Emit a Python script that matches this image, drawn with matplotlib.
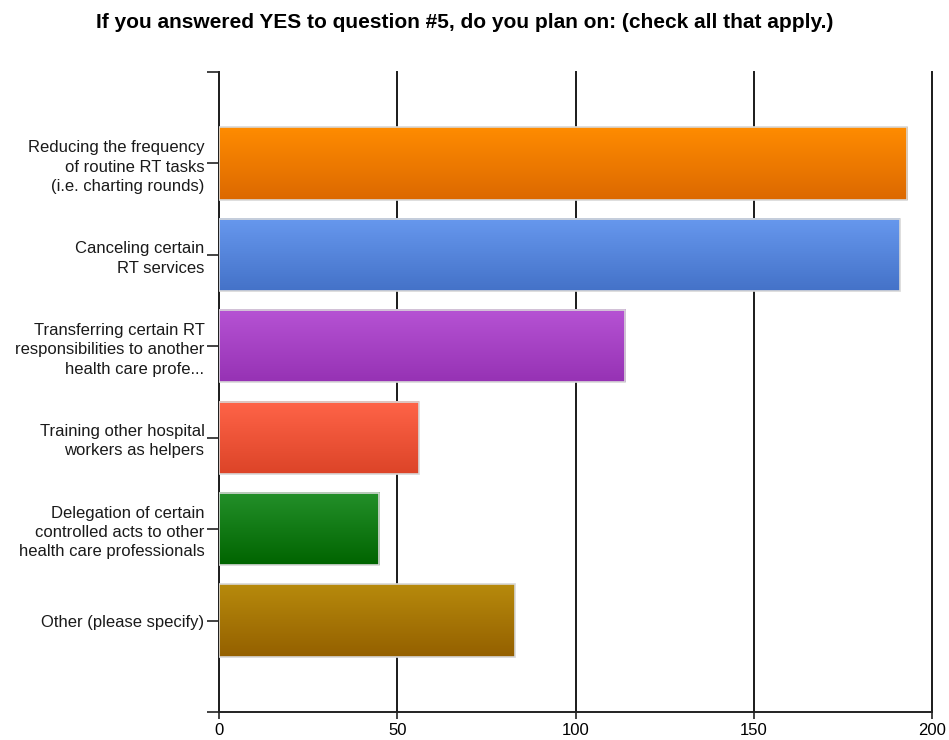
import numpy as np
import matplotlib
matplotlib.use('Agg')
import matplotlib.pyplot as plt
from matplotlib.colors import LinearSegmentedColormap

# data
categories = [
    "Reducing the frequency\nof routine RT tasks\n(i.e. charting rounds)",
    "Canceling certain\nRT services",
    "Transferring certain RT\nresponsibilities to another\nhealth care profe...",
    "Training other hospital\nworkers as helpers",
    "Delegation of certain\ncontrolled acts to other\nhealth care professionals",
    "Other (please specify)",
]
responses = [193, 191, 114, 56, 45, 83]
top_colors = ["#ff8c00", "#6798ee", "#b653d4", "#ff6448", "#24902a", "#b78a0c"]
bottom_colors = ["#dc6800", "#4472c8", "#9632b4", "#dc4428", "#006400", "#946000"]
x_ticks = [0, 50, 100, 150, 200]

plt.rcParams['font.family'] = ['Liberation Sans', 'DejaVu Sans']

fig = plt.figure(figsize=(9.49, 7.40), dpi=100)
ax = fig.add_axes([219 / 949, 1 - 712 / 740, 713 / 949, 640 / 740])

ypos = np.arange(len(categories))
bars = ax.barh(ypos, responses, height=0.79, color='none', edgecolor='#d8d8d8',
               linewidth=1.2, zorder=4)

# gradient fill, top to bottom, inside each bar
grad = np.linspace(0, 1, 256).reshape(-1, 1)
for bar, c1, c2 in zip(bars, top_colors, bottom_colors):
    x0, y0 = bar.get_x(), bar.get_y()
    w, h = bar.get_width(), bar.get_height()
    cmap = LinearSegmentedColormap.from_list('g', [c1, c2])
    ax.imshow(grad, extent=[x0, x0 + w, y0 + h, y0], aspect='auto',
              cmap=cmap, zorder=3, interpolation='bilinear')

ax.set_xlim(0, 200)
ax.set_ylim(6, -1)
ax.set_xticks(x_ticks)
ax.set_yticks(ypos)
ax.set_yticklabels(categories, fontsize=12, color='#1a1a1a', linespacing=1.35)
ax.set_yticks([-1, 6], minor=True)
ax.tick_params(axis='y', which='both', length=9, width=1.2, pad=1.5, color='#222222')
ax.tick_params(axis='x', length=5, width=1.2, pad=3, labelsize=12, color='#222222')

for t in ax.get_xticklabels():
    t.set_fontstretch('condensed')

ax.grid(axis='x', color='#1a1a1a', linewidth=1.4, zorder=1)
for line in ax.get_xgridlines():
    line.set_clip_on(False)
ax.set_axisbelow(True)
for s in ['top', 'right']:
    ax.spines[s].set_visible(False)
for s in ['left', 'bottom']:
    ax.spines[s].set_linewidth(1.4)
    ax.spines[s].set_color('#222222')

fig.text(465 / 949, 1 - 22 / 740,
         "If you answered YES to question #5, do you plan on: (check all that apply.)",
         ha='center', va='center', fontsize=15, fontweight='bold')

fig.savefig('out.png', dpi=100)
